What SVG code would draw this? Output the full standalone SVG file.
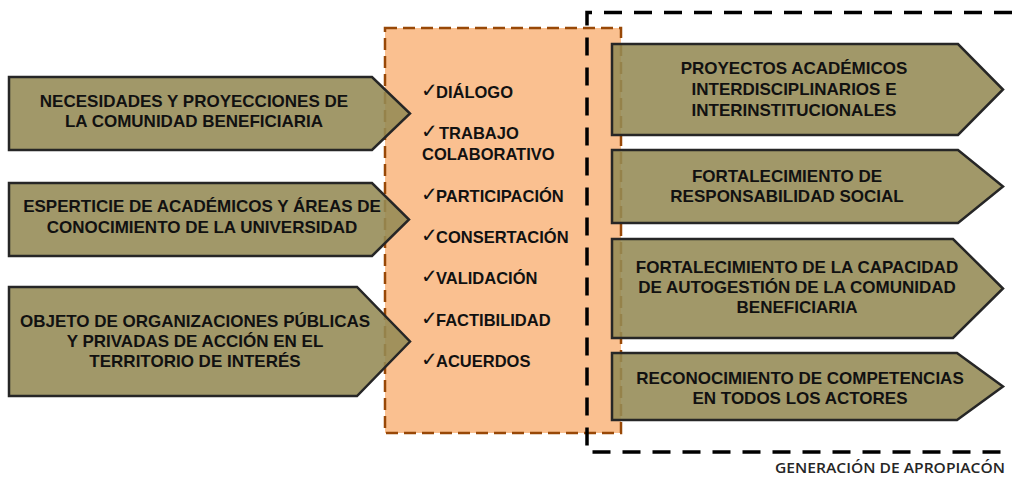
<svg xmlns="http://www.w3.org/2000/svg" width="1012" height="477" viewBox="0 0 1012 477">
<style>
  .arrow { fill: #948A54; fill-opacity: 0.88; stroke: #262626; stroke-width: 2.5; stroke-linejoin: miter; }
  .t { font-family: "Liberation Sans", Arial, sans-serif; font-size: 17px; font-weight: bold; fill: #111; text-anchor: middle; }
  .li { font-family: "Liberation Sans", Arial, sans-serif; font-size: 16.5px; font-weight: bold; fill: #111; }
  .ck { font-family: "DejaVu Sans", sans-serif; font-size: 20px; font-weight: normal; }
  .cap { font-family: "Open Sans", "Liberation Sans", sans-serif; font-size: 15px; font-weight: 600; fill: #262626; }
</style>
<rect width="1012" height="477" fill="#ffffff"/>

<g id="center-box">
  <rect x="385" y="28" width="236" height="405" fill="#FAC090" stroke="#984807" stroke-width="2.5" stroke-dasharray="12 6"/>
</g>

<g id="connectors">
  <path d="M1012,12.5 H587 V452 H1012" fill="none" stroke="#000" stroke-width="3.5" stroke-dasharray="18 12"/>
</g>

<g id="in1">
  <path class="arrow" d="M9,77 H372 L410,113.5 L372,150 H9 Z"/>
  <text class="t" x="194" y="107.3">NECESIDADES Y PROYECCIONES DE</text>
  <text class="t" x="194" y="126.7">LA COMUNIDAD BENEFICIARIA</text>
</g>
<g id="in2">
  <path class="arrow" d="M9,183 H372 L409,219.5 L372,256 H9 Z"/>
  <text class="t" x="202" y="211.7">ESPERTICIE DE ACADÉMICOS Y ÁREAS DE</text>
  <text class="t" x="202" y="232.7">CONOCIMIENTO DE LA UNIVERSIDAD</text>
</g>
<g id="in3">
  <path class="arrow" d="M9,287 H357 L410,341.5 L357,396 H9 Z"/>
  <text class="t" x="195" y="327.3">OBJETO DE ORGANIZACIONES PÚBLICAS</text>
  <text class="t" x="195" y="347.3">Y PRIVADAS DE ACCIÓN EN EL</text>
  <text class="t" x="195" y="367.3">TERRITORIO DE INTERÉS</text>
</g>

<g id="values">
  <text class="li" x="421" y="97"><tspan class="ck">✓</tspan><tspan x="436" y="98">DIÁLOGO</tspan></text>
  <text class="li" x="421" y="138"><tspan class="ck">✓</tspan><tspan x="439" y="139">TRABAJO</tspan></text>
  <text class="li" x="422" y="160">COLABORATIVO</text>
  <text class="li" x="421" y="200.5"><tspan class="ck">✓</tspan><tspan x="436" y="201.5">PARTICIPACIÓN</tspan></text>
  <text class="li" x="421" y="242"><tspan class="ck">✓</tspan><tspan x="436" y="243">CONSERTACIÓN</tspan></text>
  <text class="li" x="421" y="283"><tspan class="ck">✓</tspan><tspan x="436" y="284">VALIDACIÓN</tspan></text>
  <text class="li" x="421" y="325"><tspan class="ck">✓</tspan><tspan x="436" y="326">FACTIBILIDAD</tspan></text>
  <text class="li" x="421" y="366"><tspan class="ck">✓</tspan><tspan x="436" y="367">ACUERDOS</tspan></text>
</g>

<g id="out1">
  <path class="arrow" d="M612,44 H958 L1003,89.5 L958,135 H612 Z"/>
  <text class="t" x="794" y="74">PROYECTOS ACADÉMICOS</text>
  <text class="t" x="794" y="95">INTERDISCIPLINARIOS E</text>
  <text class="t" x="794" y="115.7">INTERINSTITUCIONALES</text>
</g>
<g id="out2">
  <path class="arrow" d="M612,150 H958 L1003,186.5 L958,223 H612 Z"/>
  <text class="t" x="787" y="181.7">FORTALECIMIENTO DE</text>
  <text class="t" x="787" y="201.7">RESPONSABILIDAD SOCIAL</text>
</g>
<g id="out3">
  <path class="arrow" d="M612,239 H953 L1003,288.5 L953,338 H612 Z"/>
  <text class="t" x="797" y="272.7">FORTALECIMIENTO DE LA CAPACIDAD</text>
  <text class="t" x="797" y="293.3">DE AUTOGESTIÓN DE LA COMUNIDAD</text>
  <text class="t" x="797" y="313.3">BENEFICIARIA</text>
</g>
<g id="out4">
  <path class="arrow" d="M612,353 H957 L1003,386.5 L957,420 H612 Z"/>
  <text class="t" x="800" y="384">RECONOCIMIENTO DE COMPETENCIAS</text>
  <text class="t" x="800" y="404.3">EN TODOS LOS ACTORES</text>
</g>

<g id="caption">
  <text class="cap" x="775" y="473" textLength="230" lengthAdjust="spacingAndGlyphs">GENERACIÓN DE APROPIACÓN</text>
</g>
</svg>
